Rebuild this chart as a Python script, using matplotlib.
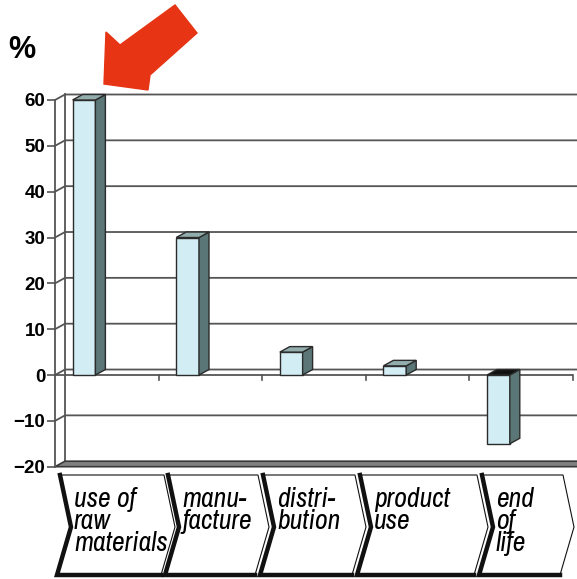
import matplotlib
matplotlib.use('Agg')
import matplotlib.pyplot as plt
from matplotlib.patches import Polygon
from matplotlib import font_manager

categories = ["use of\nraw\nmaterials", "manu-\nfacture", "distri-\nbution", "product\nuse", "end\nof\nlife"]
values = [60, 30, 5, 2, -15]
yticks = [-20, -10, 0, 10, 20, 30, 40, 50, 60]
ytick_labels = ["\u221220", "\u221210", "0", "10", "20", "30", "40", "50", "60"]

# layout (pixels of the 577x579 picture) for the decorations
chev_left = [60, 168, 263, 360, 482]
chev_right = [164, 258, 355, 477, 563]

front = '#d2edf4'
side = '#5b7676'
top = '#93adad'
edge = '#2b2b2b'
grid = '#555555'

names = sorted(set(f.name for f in font_manager.fontManager.ttflist))
narrow = [n for n in names if 'Narrow' in n or 'Condensed' in n]

fig = plt.figure(figsize=(5.77, 5.79), dpi=100)
ax = fig.add_axes([55/577, 1-466.7/579, 518/577, 366.7/579])
ax.set_facecolor('none')
ax.set_xlim(0, 5)
ax.set_ylim(-20, 60)
dx, dy = 0.0965, 1.2   # depth of the 3d box in data units

# back wall grid lines with the diagonals at the left side
for v in yticks[1:]:
    ax.plot([0, dx, 5 + dx], [v, v + dy, v + dy], color=grid, lw=1.3, clip_on=False, zorder=1)
ax.plot([dx, dx], [-20 + dy, 60 + dy], color=grid, lw=1.3, clip_on=False, zorder=1)

# floor slab at -20
ax.add_patch(Polygon([[0, -20], [dx, -20 + dy], [5 + dx, -20 + dy], [5 + dx, -20]],
                     closed=True, facecolor='#808080', edgecolor='#3a3a3a', lw=1.2,
                     clip_on=False, zorder=2))

# front zero line with ticks at category boundaries
ax.axhline(0, color=grid, lw=1.3, zorder=2)
for k in range(1, 6):
    ax.plot([k, k], [0, -1.0], color=grid, lw=1.2, clip_on=False, zorder=2)

# bars
xs = [i + 0.17 for i in range(len(values))]
w = 0.22
ax.bar(xs, values, width=w, align='edge', color=front, edgecolor=edge, lw=1.0, zorder=4)
for x, v in zip(xs, values):
    lo, hi = min(0, v), max(0, v)
    ax.add_patch(Polygon([[x + w, lo], [x + w + dx, lo + dy], [x + w + dx, hi + dy], [x + w, hi]],
                         closed=True, facecolor=side, edgecolor=edge, lw=1.0, zorder=4, clip_on=False))
    topc = top if v >= 0 else '#111111'
    ax.add_patch(Polygon([[x, hi], [x + dx, hi + dy], [x + w + dx, hi + dy], [x + w, hi]],
                         closed=True, facecolor=topc, edgecolor=edge, lw=1.0, zorder=4, clip_on=False))

ax.set_xticks([])
ax.set_yticks(yticks)
ax.set_yticklabels(ytick_labels, fontsize=13.5, fontweight='bold', family=['Liberation Sans', 'DejaVu Sans'])
ax.tick_params(axis='y', length=6, width=1.2, color=grid, pad=1)
for s in ['top', 'right', 'bottom']:
    ax.spines[s].set_visible(False)
ax.spines['left'].set_color(grid)
ax.spines['left'].set_linewidth(1.3)

# decoration layer in pixel coordinates
deco = fig.add_axes([0, 0, 1, 1])
deco.set_xlim(0, 577)
deco.set_ylim(579, 0)
deco.axis('off')
deco.patch.set_alpha(0)

deco.text(22, 50, '%', fontsize=22, ha='center', va='center', fontweight='bold',
          family=['Liberation Sans', 'DejaVu Sans'])

arrow = [(175, 5), (197, 33), (150, 75), (148, 90), (104, 84), (106, 32), (120, 45)]
deco.add_patch(Polygon(arrow, closed=True, facecolor='#e63414', edgecolor='#e63414', lw=1))

ytop, ymid, ybot, p = 475, 527, 575, 11
for L, R, lab in zip(chev_left, chev_right, categories):
    pts = [(L, ytop), (R, ytop), (R + p, ymid), (R - 3, ybot), (L - 3, ybot), (L + p, ymid)]
    deco.add_patch(Polygon(pts, closed=True, facecolor='white', edgecolor='#111111', lw=0.8))
    deco.plot([L, L + p, L - 3, R - 3], [ytop, ymid, ybot, ybot], color='#111111', lw=3.2,
              solid_joinstyle='miter')
    deco.text(L + p + 3, 487, lab, fontsize=20, style='italic', ha='left', va='top',
              linespacing=0.85, fontstretch='condensed',
              family=narrow[:1] + ['DejaVu Sans'])

fig.savefig('out.png', dpi=100)
